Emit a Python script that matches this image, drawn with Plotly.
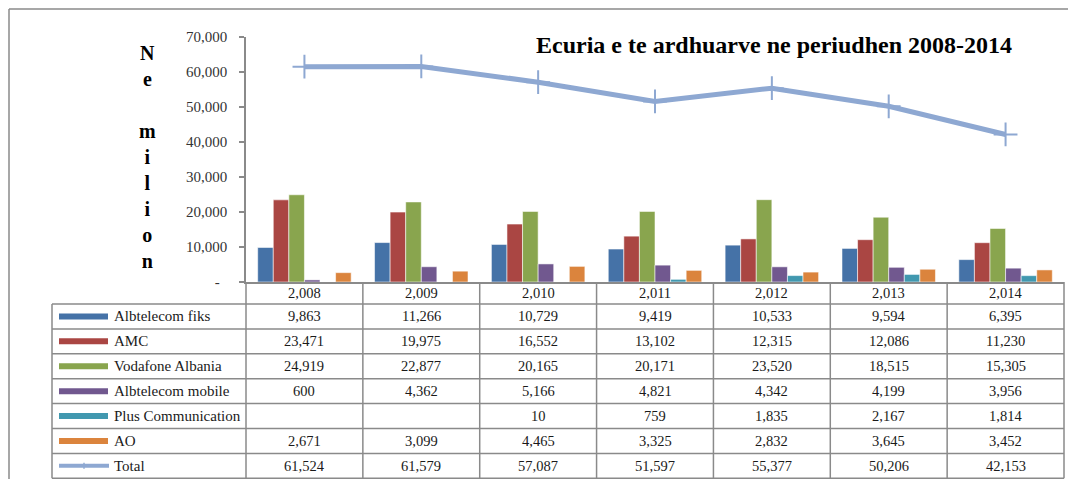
import plotly.graph_objects as go

# ---------------------------------------------------------------------------
# Data
# ---------------------------------------------------------------------------
years = [2008, 2009, 2010, 2011, 2012, 2013, 2014]
albtelecom_fiks = [9863, 11266, 10729, 9419, 10533, 9594, 6395]
amc = [23471, 19975, 16552, 13102, 12315, 12086, 11230]
vodafone = [24919, 22877, 20165, 20171, 23520, 18515, 15305]
albtelecom_mobile = [600, 4362, 5166, 4821, 4342, 4199, 3956]
plus_communication = [None, None, 10, 759, 1835, 2167, 1814]
ao = [2671, 3099, 4465, 3325, 2832, 3645, 3452]
total = [61524, 61579, 57087, 51597, 55377, 50206, 42153]

series_names = ["Albtelecom fiks", "AMC", "Vodafone Albania",
                "Albtelecom mobile", "Plus Communication", "AO"]
series_values = [albtelecom_fiks, amc, vodafone, albtelecom_mobile,
                 plus_communication, ao]
series_colors = ["#4572A7", "#AA4643", "#89A54E", "#71588F", "#4198AF", "#DB843D"]
total_color = "#8EA8D2"

y_ticks = [0, 10000, 20000, 30000, 40000, 50000, 60000, 70000]

# ---------------------------------------------------------------------------
# Layout geometry (page pixels; the html body adds an 8px margin all round,
# so the figure is kept 16px smaller than the window to avoid scrollbars)
# ---------------------------------------------------------------------------
W, H = 1076, 487
BODY = 8
FIG_W, FIG_H = W - 2 * BODY, H - 2 * BODY
L, R, T, B = 246, 1064, 37, 282
FONT = "Liberation Serif, Times New Roman, serif"
GRID = "#8a8a8a"
TXT = "#1a1a1a"


def fx(px):
    return (px - L) / (R - L)


def fy(py):
    return (B - py) / (B - T)


year_labels = [f"{y:,}" for y in years]

fig = go.Figure()
for name, vals, color in zip(series_names, series_values, series_colors):
    fig.add_trace(go.Bar(
        x=year_labels, y=vals, name=name,
        marker={"color": color, "line": {"color": "rgba(255,255,255,0.55)", "width": 1}},
    ))

fig.add_trace(go.Scatter(
    x=year_labels, y=total, name="Total", mode="lines+markers",
    line={"color": total_color, "width": 5},
    marker={"symbol": "cross-thin", "size": 17,
            "line": {"color": total_color, "width": 2}, "color": total_color},
))

shapes = []
annotations = []
line = {"color": GRID, "width": 1.5}

# outer frame: only top and left edges are visible in the crop
shapes.append(dict(type="line", xref="paper", yref="paper",
                   x0=fx(9), x1=fx(W), y0=fy(9), y1=fy(9), line=line))
shapes.append(dict(type="line", xref="paper", yref="paper",
                   x0=fx(9), x1=fx(9), y0=fy(9), y1=fy(H), line=line))

# data table grid
n_cols = len(years)
col_w = (R - L) / n_cols
tbl_left = 52
row_top = 304
row_h = 24.9
n_rows = len(series_names) + 1
tbl_bottom = row_top + n_rows * row_h

for k in range(n_cols + 1):
    xk = L + k * col_w
    shapes.append(dict(type="line", xref="paper", yref="paper",
                       x0=fx(xk), x1=fx(xk), y0=fy(B), y1=fy(tbl_bottom), line=line))
shapes.append(dict(type="line", xref="paper", yref="paper",
                   x0=fx(tbl_left), x1=fx(tbl_left), y0=fy(row_top), y1=fy(tbl_bottom),
                   line=line))
for r in range(n_rows + 1):
    yr = row_top + r * row_h
    shapes.append(dict(type="line", xref="paper", yref="paper",
                       x0=fx(tbl_left), x1=fx(R), y0=fy(yr), y1=fy(yr), line=line))

# header row with years
for lbl in year_labels:
    annotations.append(dict(x=lbl, xref="x", y=fy((B + row_top) / 2), yref="paper",
                            text=lbl, showarrow=False, yanchor="middle",
                            font={"family": FONT, "size": 14.5, "color": TXT}))

# series rows
row_names = series_names + ["Total"]
row_values = series_values + [total]
row_colors = series_colors + [total_color]
for r, (name, vals, color) in enumerate(zip(row_names, row_values, row_colors)):
    yc = row_top + (r + 0.5) * row_h
    if name == "Total":
        shapes.append(dict(type="line", xref="paper", yref="paper",
                           x0=fx(59), x1=fx(109), y0=fy(yc), y1=fy(yc),
                           line={"color": color, "width": 4}))
        shapes.append(dict(type="line", xref="paper", yref="paper",
                           x0=fx(84), x1=fx(84), y0=fy(yc - 3), y1=fy(yc + 3),
                           line={"color": color, "width": 1.5}))
    else:
        shapes.append(dict(type="rect", xref="paper", yref="paper",
                           x0=fx(59), x1=fx(108), y0=fy(yc + 3), y1=fy(yc - 3),
                           fillcolor=color, line={"width": 0}))
    annotations.append(dict(x=fx(112), xref="paper", y=fy(yc), yref="paper",
                            text=name, showarrow=False, xanchor="left", yanchor="middle",
                            font={"family": FONT, "size": 15, "color": TXT}))
    for lbl, v in zip(year_labels, vals):
        if v is None:
            continue
        annotations.append(dict(x=lbl, xref="x", y=fy(yc), yref="paper",
                                text=f"{v:,}", showarrow=False, yanchor="middle",
                                font={"family": FONT, "size": 14.5, "color": TXT}))

# chart title
annotations.append(dict(x=fx(1014), xref="paper", y=fy(45), yref="paper",
                        text="<b>Ecuria e te ardhuarve ne periudhen 2008-2014</b>",
                        showarrow=False, xanchor="right", yanchor="middle",
                        font={"family": FONT, "size": 24, "color": "#000000"}))

# stacked vertical axis title
annotations.append(dict(x=fx(147), xref="paper", y=fy(157), yref="paper",
                        text="<b>N<br>e<br><br>m<br>i<br>l<br>i<br>o<br>n</b>",
                        showarrow=False, xanchor="center", yanchor="middle",
                        font={"family": FONT, "size": 20, "color": "#000000"}))

fig.update_layout(
    width=FIG_W, height=FIG_H,
    margin={"l": L - BODY, "r": FIG_W - (R - BODY), "t": T - BODY,
            "b": FIG_H - (B - BODY), "pad": 0},
    paper_bgcolor="white", plot_bgcolor="white",
    showlegend=False,
    barmode="group", bargap=0.2, bargroupgap=0,
    font={"family": FONT, "size": 14, "color": TXT},
    xaxis={"type": "category", "showticklabels": False, "ticks": "",
           "showline": True, "linecolor": GRID, "linewidth": 1.5,
           "showgrid": False, "fixedrange": True},
    yaxis={"range": [0, 70000], "tickvals": y_ticks,
           "ticktext": ["-<span style='color:rgba(0,0,0,0)'>0</span>"]
                       + [f"{v:,}" for v in y_ticks[1:]],
           "ticks": "outside", "ticklen": 5, "tickcolor": GRID, "tickwidth": 1.5,
           "ticklabelstandoff": 9,
           "showline": True, "linecolor": GRID, "linewidth": 1.5,
           "showgrid": False, "zeroline": False,
           "tickfont": {"family": FONT, "size": 15, "color": "#333333"},
           "fixedrange": True},
    shapes=shapes,
    annotations=annotations,
)

fig.write_html("out.html")
